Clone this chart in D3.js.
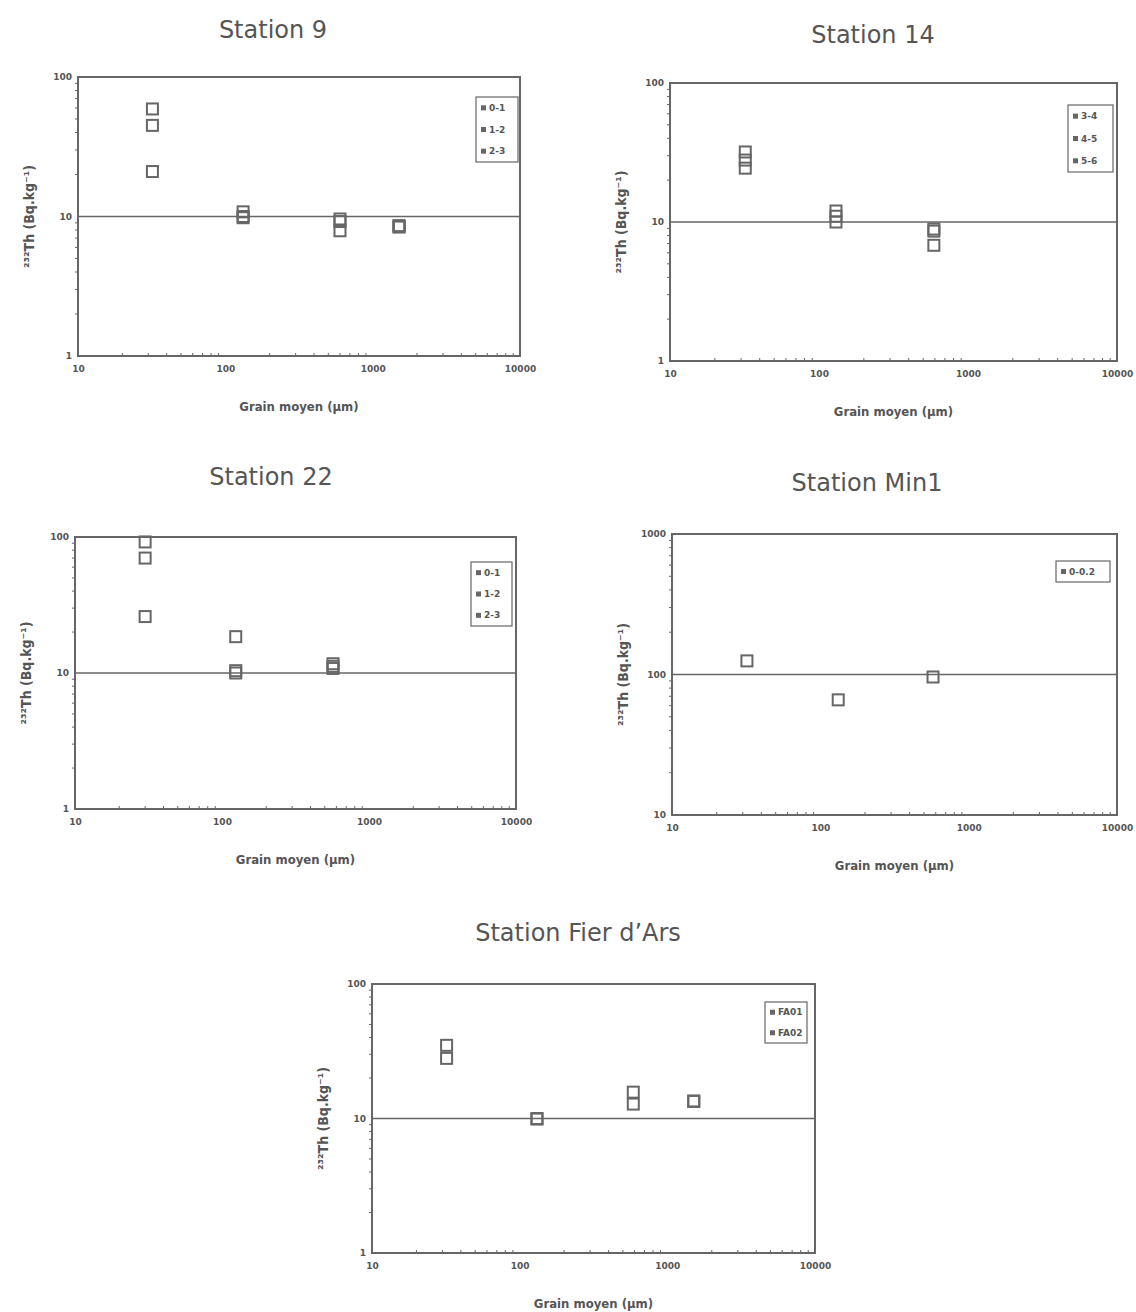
<!DOCTYPE html>
<html>
<head>
<meta charset="utf-8">
<script src="https://cdn.jsdelivr.net/npm/d3@7"></script>
<style>
  body { margin: 0; background: #fff; }
  text { font-family: "DejaVu Sans", sans-serif; fill: #555; }
</style>
</head>
<body>
<svg id="chart" width="1136" height="1312"></svg>
<script>
// Data (grain size in µm, 232Th in Bq/kg)

// Station 9
var st9Grain = [32, 132, 600, 1510];
var st9Series = ["0-1", "1-2", "2-3"];
var st9Values = [
  [59, 10.8, 9.6, 8.5],
  [45, 10.0, 9.2, 8.6],
  [21, 9.8, 7.9, 8.4]
];

// Station 14
var st14Grain = [32, 130, 590];
var st14Series = ["3-4", "4-5", "5-6"];
var st14Values = [
  [31.9, 12, 8.9],
  [27.9, 11, 8.6],
  [24.4, 10, 6.8]
];

// Station 22
var st22Grain = [30, 124, 569];
var st22Series = ["0-1", "1-2", "2-3"];
var st22Values = [
  [92, 18.5, 11.7],
  [70, 10.4, 10.8],
  [26, 10.0, 11.2]
];

// Station Min1
var min1Grain = [32, 132, 575];
var min1Series = ["0-0.2"];
var min1Values = [
  [125, 66, 96]
];

// Station Fier d'Ars
var fierGrain = [32, 131, 588, 1510];
var fierSeries = ["FA01", "FA02"];
var fierValues = [
  [35, 9.9, 15.7, 13.5],
  [28, 10.0, 12.8, 13.4]
];

var xTicks = [10, 100, 1000, 10000];

// Panels: plot rectangle, y domain, legend box
var panels = [
  {title: "Station 9", grain: st9Grain, series: st9Series, values: st9Values,
   x0: 78, x1: 520, y0: 77, y1: 356, yDom: [1, 100], tx: 273, ty: 38, leg: [476, 97, 42, 65]},
  {title: "Station 14", grain: st14Grain, series: st14Series, values: st14Values,
   x0: 670, x1: 1117, y0: 83, y1: 361, yDom: [1, 100], tx: 873, ty: 43, leg: [1068, 105, 45, 67]},
  {title: "Station 22", grain: st22Grain, series: st22Series, values: st22Values,
   x0: 75, x1: 516, y0: 537, y1: 809, yDom: [1, 100], tx: 271, ty: 485, leg: [471, 562, 41, 64]},
  {title: "Station Min1", grain: min1Grain, series: min1Series, values: min1Values,
   x0: 672, x1: 1117, y0: 534, y1: 815, yDom: [10, 1000], tx: 867, ty: 491, leg: [1056, 561, 54, 21]},
  {title: "Station Fier d\u2019Ars", grain: fierGrain, series: fierSeries, values: fierValues,
   x0: 372, x1: 815, y0: 984, y1: 1253, yDom: [1, 100], tx: 578, ty: 941, leg: [765, 1002, 42, 41]}
];

var svg = d3.select("#chart");
var ink = "#666";

panels.forEach(function(p) {
  var g = svg.append("g");

  var x = d3.scaleLog().domain([10, 10000]).range([p.x0, p.x1]);
  var y = d3.scaleLog().domain(p.yDom).range([p.y1, p.y0]);
  var yTicks = [p.yDom[0], p.yDom[0] * 10, p.yDom[1]];

  // Title
  g.append("text")
    .attr("x", p.tx).attr("y", p.ty)
    .attr("text-anchor", "middle")
    .style("font-size", "24px")
    .text(p.title);

  // Middle gridline
  g.append("line")
    .attr("x1", p.x0).attr("x2", p.x1)
    .attr("y1", y(yTicks[1])).attr("y2", y(yTicks[1]))
    .attr("stroke", ink).attr("stroke-width", 1.6);

  // Frame
  g.append("rect")
    .attr("x", p.x0).attr("y", p.y0)
    .attr("width", p.x1 - p.x0).attr("height", p.y1 - p.y0)
    .attr("fill", "none").attr("stroke", ink).attr("stroke-width", 2);

  // Axes
  var bottomAxis = d3.axisBottom(x)
    .tickValues(xTicks)
    .tickFormat(d3.format("d"))
    .tickSize(0).tickPadding(10);
  var gx = g.append("g")
    .attr("transform", `translate(0, ${p.y1})`)
    .call(bottomAxis);

  var leftAxis = d3.axisLeft(y)
    .tickValues(yTicks)
    .tickFormat(d3.format("d"))
    .tickSize(0).tickPadding(6);
  var gy = g.append("g")
    .attr("transform", `translate(${p.x0}, 0)`)
    .call(leftAxis);

  [gx, gy].forEach(function(a) {
    a.select(".domain").remove();
    a.selectAll("text")
      .style("font-size", "9px")
      .style("font-weight", "bold")
      .attr("fill", ink);
  });

  // Minor ticks
  var minorX = x.ticks().filter(d => xTicks.indexOf(d) < 0);
  g.selectAll(".mx").data(minorX).enter().append("line")
    .attr("x1", d => x(d)).attr("x2", d => x(d))
    .attr("y1", p.y1).attr("y2", p.y1 - 3)
    .attr("stroke", ink).attr("stroke-width", 1);
  var minorY = y.ticks().filter(d => yTicks.indexOf(d) < 0);
  g.selectAll(".my").data(minorY).enter().append("line")
    .attr("x1", p.x0).attr("x2", p.x0 - 3)
    .attr("y1", d => y(d)).attr("y2", d => y(d))
    .attr("stroke", ink).attr("stroke-width", 1);

  // Axis titles
  g.append("text")
    .attr("x", (p.x0 + p.x1) / 2).attr("y", p.y1 + 55)
    .attr("text-anchor", "middle")
    .style("font-size", "13px").style("font-weight", "bold")
    .style("font-stretch", "condensed")
    .style("font-family", "'DejaVu Sans Condensed', 'DejaVu Sans', sans-serif")
    .text("Grain moyen (\u00b5m)");

  g.append("text")
    .attr("transform", `translate(${p.x0 - 44}, ${(p.y0 + p.y1) / 2}) rotate(-90)`)
    .attr("text-anchor", "middle")
    .style("font-size", "14px").style("font-weight", "bold")
    .style("font-family", "'DejaVu Sans Condensed', 'DejaVu Sans', sans-serif")
    .text("\u00b2\u00b3\u00b2Th (Bq.kg\u207b\u00b9)");

  // Points
  p.series.forEach(function(s, i) {
    g.selectAll(".pt" + i)
      .data(p.values[i].map((v, j) => ({g: p.grain[j], v: v})))
      .enter().append("rect")
      .attr("x", d => x(d.g) - 5.5)
      .attr("y", d => y(d.v) - 5.5)
      .attr("width", 11).attr("height", 11)
      .attr("fill", "none")
      .attr("stroke", ink).attr("stroke-width", 2);
  });

  // Legend
  var L = p.leg;
  g.append("rect")
    .attr("x", L[0]).attr("y", L[1]).attr("width", L[2]).attr("height", L[3])
    .attr("fill", "#fff").attr("stroke", ink).attr("stroke-width", 1.2);
  var step = (L[3]) / p.series.length;
  p.series.forEach(function(s, i) {
    var cy = L[1] + step * (i + 0.5);
    g.append("rect")
      .attr("x", L[0] + 5).attr("y", cy - 2.5)
      .attr("width", 5).attr("height", 5)
      .attr("fill", ink);
    g.append("text")
      .attr("x", L[0] + 13).attr("y", cy + 3)
      .style("font-size", "9px").style("font-weight", "bold")
      .text(s);
  });
});
</script>
</body>
</html>
